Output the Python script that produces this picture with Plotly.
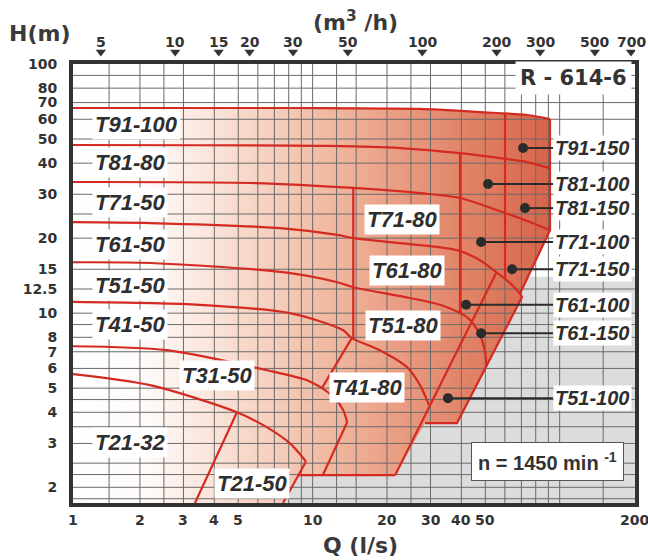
import numpy as np
import plotly.graph_objects as go

# ---------------- axes, ticks, grid ----------------
Q_RANGE = (1.0715, 201.8)          # l/s
H_RANGE = (1.73, 100.0)            # m
q_ticks = [2, 3, 4, 5, 10, 20, 30, 40, 50, 200]
q_tick_text = ["2", "3", "4", "5", "10", "20", "30", "40", "50", "200"]
h_ticks = [100, 80, 70, 60, 50, 40, 30, 20, 15, 12.5, 10, 8, 7, 6, 5, 4, 3, 2]
h_tick_text = ["100", "80", "70", "60", "50", "40", "30", "20", "15", "12.5",
               "10", "8", "7", "6", "5", "4", "3", "2"]
m3h_ticks = [5, 10, 15, 20, 30, 50, 100, 200, 300, 500, 700]
grid_q = [1.5, 2, 2.5, 3, 4, 5, 6, 7, 8, 9, 10, 12.5, 15, 20, 25, 30, 40, 50,
          60, 70, 80, 90, 100, 150]
grid_h = [90, 80, 70, 60, 50, 40, 30, 25, 20, 15, 12.5, 10, 9, 8, 7, 6, 5, 4.5,
          4, 3.5, 3, 2.5, 2.25, 2, 1.8]

# ---------------- head curves (Q l/s, H m) ----------------
c1_q = [1.0, 8.89, 27.2, 47.6, 73.8, 91.4]
c1_h = [66.6, 66.6, 66.0, 64.1, 62.4, 60.1]
c2_q = [1.0, 11.8, 22.6, 39.5, 57.4, 73.8, 91.4]
c2_h = [47.3, 46.9, 46.0, 43.9, 41.9, 40.4, 38.2]
c3_q = [1.0, 5.58, 14.6, 27.2, 39.5, 59.0, 75.9, 91.4]
c3_h = [33.6, 33.3, 31.8, 30.3, 29.0, 25.4, 23.2, 21.5]
c4_q = [1.0, 2.20, 7.59, 12.6, 14.6, 22.6, 38.4, 47.6, 55.8, 63.0, 69.1]
c4_h = [23.2, 23.0, 21.9, 20.6, 20.0, 19.1, 17.9, 16.3, 14.5, 13.2, 12.0]
c5_q = [1.0, 2.20, 7.59, 12.6, 14.6, 22.6, 32.8, 42.6, 47.6, 49.9, 50.5]
c5_h = [16.0, 15.9, 14.6, 13.3, 12.7, 11.7, 10.8, 9.55, 8.16, 6.97, 6.13]
c6_q = [1.0, 3.50, 8.10, 13.3, 14.4, 18.7, 24.1, 27.2, 29.6]
c6_h = [11.1, 10.8, 10.0, 8.54, 7.94, 7.10, 6.07, 5.14, 4.27]
c7_q = [1.0, 2.57, 6.54, 9.49, 10.9, 12.3, 13.3, 13.8]
c7_h = [7.37, 7.10, 5.90, 5.38, 5.00, 4.56, 4.08, 3.65]
c8_q = [1.0, 2.20, 4.94, 6.54, 8.10, 9.40]
c8_h = [5.74, 5.14, 4.00, 3.48, 3.00, 2.54]

# ---------------- straight boundaries ----------------
seg_q = [[13.8, 11.0], [14.4, 10.9], [4.94, 3.34], [9.40, 7.59], [8.73, 21.6],
         [21.6, 55.3], [14.6, 14.6], [39.5, 39.5], [60.1, 60.1]]
seg_h = [[3.65, 2.24], [7.94, 5.00], [4.00, 1.73], [2.54, 1.73], [2.24, 2.24],
         [2.24, 14.5], [31.8, 7.94], [43.9, 10.1], [63.6, 13.6]]

# ---------------- outline of the covered field ----------------
edge_q = [91.4, 91.4, 69.1, 70.4, 38.4, 28.5, 21.6, 8.73, 7.59, 7.59, 0.9, 0.9]
edge_h = [60.1, 21.5, 12.0, 11.6, 3.62, 3.62, 2.24, 2.24, 1.73, 1.5, 1.5, 66.6]
grey_q = [7.59, 250, 250, 7.59]
grey_h = [14.0, 14.0, 1.5, 1.5]

# ---------------- labels ----------------
left_labels = ["T91-100", "T81-80", "T71-50", "T61-50", "T51-50", "T41-50", "T21-32"]
left_label_h = [57.4, 40.2, 27.8, 18.8, 12.9, 9.03, 3.03]
mid_labels = ["T31-50", "T21-50", "T71-80", "T61-80", "T51-80", "T41-80"]
mid_label_q = [4.10, 5.68, 23.0, 24.1, 23.2, 16.6]
mid_label_h = [5.64, 2.08, 23.8, 14.9, 8.95, 5.04]
right_labels = ["T91-150", "T81-100", "T81-150", "T71-100", "T71-150",
                "T61-100", "T61-150", "T51-100"]
right_dot_q = [71.1, 51.3, 72.4, 48.1, 64.2, 41.8, 48.1, 35.3]
right_label_h = [46.0, 33.0, 26.4, 19.3, 15.0, 10.8, 8.31, 4.56]
LABEL_LEFT_Q = 1.28
LEADER_END_Q = 94.0

RED = "#d42a22"
TXT = "#333333"

fig = go.Figure()

fig.add_trace(go.Scatter(x=grey_q, y=grey_h, fill="toself", fillcolor="#dcdcdc",
                         line=dict(width=0), mode="lines", hoverinfo="skip"))
env_q = c1_q + edge_q
env_h = c1_h + edge_h
fig.add_trace(go.Scatter(
    x=env_q, y=env_h, fill="toself", mode="lines", line=dict(width=0),
    fillgradient=dict(type="horizontal", colorscale=[
        [0.0, "#ffffff"], [0.18, "#fefbfa"], [0.30, "#fbe7de"], [0.45, "#f5cdbb"],
        [0.60, "#eeb096"], [0.75, "#e69277"], [0.88, "#de7a5e"], [1.0, "#d6644a"]]),
    hoverinfo="skip"))

gx, gy = [], []
for q in grid_q:
    gx += [q, q, None]
    gy += [H_RANGE[0] * 0.9, H_RANGE[1], None]
for h in grid_h:
    gx += [Q_RANGE[0] * 0.9, Q_RANGE[1] * 1.1, None]
    gy += [h, h, None]
fig.add_trace(go.Scatter(x=gx, y=gy, mode="lines", line=dict(color="#6a6a6a", width=1),
                         hoverinfo="skip"))

for cq, ch in [(c1_q, c1_h), (c2_q, c2_h), (c3_q, c3_h), (c4_q, c4_h), (c5_q, c5_h),
               (c6_q, c6_h), (c7_q, c7_h), (c8_q, c8_h)]:
    fig.add_trace(go.Scatter(x=cq, y=ch, mode="lines",
                             line=dict(color=RED, width=2.2, shape="spline", smoothing=0.8),
                             hoverinfo="skip"))
for sq, sh in zip(seg_q, seg_h):
    fig.add_trace(go.Scatter(x=sq, y=sh, mode="lines", line=dict(color=RED, width=2.2),
                             hoverinfo="skip"))
fig.add_trace(go.Scatter(x=edge_q[:6], y=edge_h[:6], mode="lines",
                         line=dict(color=RED, width=2.2), hoverinfo="skip"))

for q, h in zip(right_dot_q, right_label_h):
    fig.add_trace(go.Scatter(x=[q, LEADER_END_Q], y=[h, h], mode="lines",
                             line=dict(color="#2b2b2b", width=2), hoverinfo="skip"))
fig.add_trace(go.Scatter(x=right_dot_q, y=right_label_h, mode="markers",
                         marker=dict(color="#2b2b2b", size=10), hoverinfo="skip"))

# top m3/h triangles in a thin strip above the frame
fig.add_trace(go.Scatter(x=[v / 3.6 for v in m3h_ticks], y=[0.5] * len(m3h_ticks),
                         xaxis="x", yaxis="y2", mode="markers", hoverinfo="skip",
                         marker=dict(symbol="triangle-down", size=9, color=TXT)))

ann = []
lab_font = dict(family="Liberation Sans", size=22, color="#2e2e2e", weight="bold", style="italic")
for t, h in zip(left_labels, left_label_h):
    ann.append(dict(x=np.log10(LABEL_LEFT_Q), y=np.log10(h), xref="x", yref="y", text=t,
                    showarrow=False, xanchor="left", yanchor="middle", bgcolor="white",
                    borderpad=2, font=lab_font))
for t, q, h in zip(mid_labels, mid_label_q, mid_label_h):
    ann.append(dict(x=np.log10(q), y=np.log10(h), xref="x", yref="y", text=t,
                    showarrow=False, xanchor="center", yanchor="middle", bgcolor="white",
                    borderpad=2, font=lab_font))
rfont = dict(family="Liberation Sans", size=20, color="#2e2e2e", weight="bold", style="italic")
for t, h in zip(right_labels, right_label_h):
    ann.append(dict(x=np.log10(LEADER_END_Q), y=np.log10(h), xref="x", yref="y", text=t,
                    showarrow=False, xanchor="left", yanchor="middle", bgcolor="white",
                    borderpad=1, font=rfont))

tick_font = dict(family="DejaVu Sans", size=14, color=TXT, weight="bold")
for q, t in zip(q_ticks, q_tick_text):
    ann.append(dict(x=np.log10(q), y=0, xref="x", yref="y domain", text=t, showarrow=False,
                    xanchor="center", yanchor="middle", yshift=-17, font=tick_font))
ann.append(dict(x=0, y=0, xref="x domain", yref="y domain", text="1", showarrow=False,
                xanchor="center", yanchor="middle", yshift=-17, font=tick_font))
for v in m3h_ticks:
    ann.append(dict(x=np.log10(v / 3.6), y=1, xref="x", yref="y domain", text=str(v),
                    showarrow=False, xanchor="center", yanchor="middle", yshift=22,
                    font=tick_font))

title_font = dict(family="DejaVu Sans", size=22, color="#3a3a3a", weight="bold")
ann.append(dict(x=-0.059, y=1, xref="x domain", yref="y domain", text="H(m)", showarrow=False,
                xanchor="center", yanchor="middle", yshift=30, font=title_font))
ann.append(dict(x=0.502, y=1, xref="x domain", yref="y domain", text="(m<sup>3</sup> /h)",
                showarrow=False, xanchor="center", yanchor="middle", yshift=43, font=title_font))
ann.append(dict(x=0.511, y=0, xref="x domain", yref="y domain", text="Q (l/s)", showarrow=False,
                xanchor="center", yanchor="middle", yshift=-42, font=title_font))
ann.append(dict(x=0.995, y=0.968, xref="x domain", yref="y domain", text="R - 614-6",
                showarrow=False, xanchor="right", yanchor="middle", bgcolor="white",
                borderpad=4, font=dict(family="DejaVu Sans", size=21, color=TXT, weight="bold")))
ann.append(dict(x=0.98, y=0.05, xref="x domain", yref="y domain",
                text="n = 1450 min <sup>-1</sup>", showarrow=False, xanchor="right",
                yanchor="bottom", bgcolor="white", bordercolor="#555555", borderwidth=1,
                borderpad=6,
                font=dict(family="Liberation Sans", size=20, color=TXT, weight="bold")))

TOP_MARGIN = 40
PLOT_H = 560 - TOP_MARGIN - 57
MAIN_TOP = 439 / PLOT_H

fig.update_layout(
    width=648, height=560, margin=dict(l=73, r=13, t=TOP_MARGIN, b=57, autoexpand=False),
    paper_bgcolor="white", plot_bgcolor="rgba(0,0,0,0)", showlegend=False,
    annotations=ann,
    xaxis=dict(type="log", range=[np.log10(Q_RANGE[0]), np.log10(Q_RANGE[1])],
               showgrid=False, zeroline=False, showticklabels=False, ticks="",
               showline=True, mirror=True, linewidth=4, linecolor="#333333",
               layer="above traces", automargin=False, anchor="y"),
    yaxis=dict(type="log", range=[np.log10(H_RANGE[0]), np.log10(H_RANGE[1])],
               domain=[0, MAIN_TOP],
               showgrid=False, zeroline=False, tickvals=h_ticks, ticktext=h_tick_text,
               ticks="outside", ticklen=9, tickcolor="rgba(0,0,0,0)", tickfont=tick_font,
               showline=True, mirror=True, linewidth=4, linecolor="#333333",
               layer="above traces", automargin=False),
    yaxis2=dict(domain=[MAIN_TOP, 1.0], range=[0, 1], visible=False, anchor="x",
                fixedrange=True),
)
fig.write_html("out.html", post_script="document.body.style.margin='0px';",
               config={"displayModeBar": False})
